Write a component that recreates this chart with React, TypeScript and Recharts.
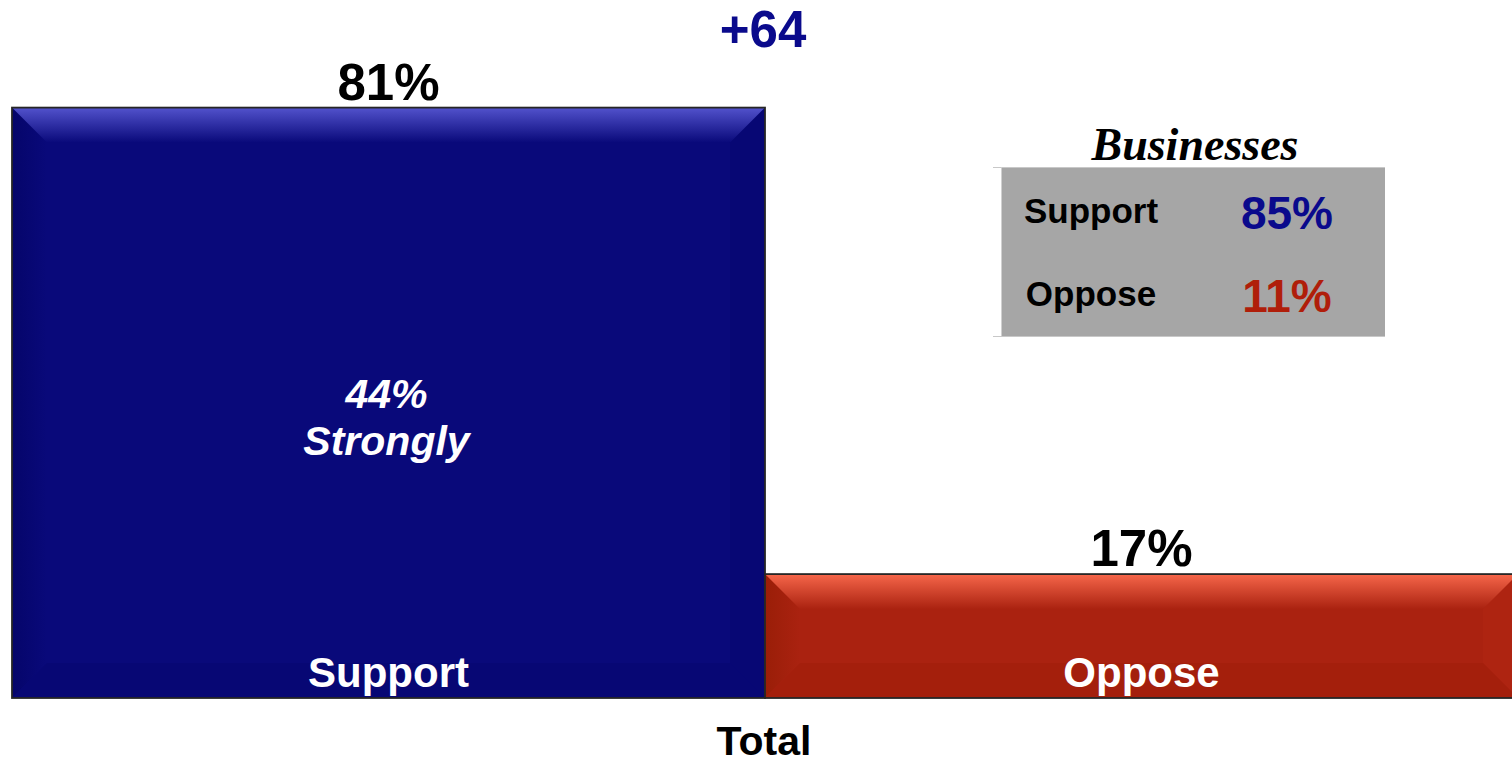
import React from "react";
import { BarChart, Bar, XAxis, YAxis, Cell, LabelList } from "recharts";

const categories = ["Support", "Oppose"];
const totals = [81, 17];
const strongly: (number | null)[] = [44, null];
const businessLabels = ["Support", "Oppose"];
const businessValues = [85, 11];

const data = categories.map((name, i) => ({ name, value: totals[i], strong: strongly[i] }));

const SANS = "'Liberation Sans', Arial, sans-serif";
const SERIF = "'Liberation Serif', 'Times New Roman', serif";

// main face, top highlight, left/right/bottom faces
const faces = [
  { main: "#09097a", top: "#5252cc", left: "#05056a", right: "#070774", bottom: "#070774" },
  { main: "#aa2210", top: "#f6664a", left: "#9a1e08", right: "#ae2411", bottom: "#a41f0c" },
];
const valueColors = ["#0a0a8c", "#b01e0a"];

function box(p: any) {
  const vb = p.viewBox && p.viewBox.width != null ? p.viewBox : p;
  return { x: Number(vb.x), y: Number(vb.y), w: Number(vb.width), h: Number(vb.height) };
}

function BevelBar(props: any) {
  const { x, y, width: w, height: h, index } = props;
  const c = faces[index] ?? faces[0];
  const b = Math.min(35, h / 2, w / 2);
  const id = `topgrad-${index}`;
  const lid = `leftgrad-${index}`;
  return (
    <g>
      <defs>
        <linearGradient id={id} x1="0" y1="0" x2="0" y2="1">
          <stop offset="0%" stopColor={c.top} />
          <stop offset="100%" stopColor={c.main} />
        </linearGradient>
        <linearGradient id={lid} x1="0" y1="0" x2="1" y2="0">
          <stop offset="0%" stopColor={c.left} />
          <stop offset="100%" stopColor={c.main} />
        </linearGradient>
      </defs>
      <rect x={x} y={y} width={w} height={h} fill={c.main} />
      <polygon points={`${x},${y} ${x + b},${y + b} ${x + b},${y + h - b} ${x},${y + h}`} fill={`url(#${lid})`} />
      <polygon points={`${x + w},${y} ${x + w - b},${y + b} ${x + w - b},${y + h - b} ${x + w},${y + h}`} fill={c.right} />
      <polygon points={`${x},${y + h} ${x + b},${y + h - b} ${x + w - b},${y + h - b} ${x + w},${y + h}`} fill={c.bottom} />
      <polygon points={`${x},${y} ${x + w},${y} ${x + w - b},${y + b} ${x + b},${y + b}`} fill={`url(#${id})`} />
      <rect x={x} y={y} width={w} height={h} fill="none" stroke="#262626" strokeWidth={1.8} />
    </g>
  );
}

function TopLabel(props: any) {
  const { x, y, w } = box(props);
  return (
    <text x={x + w / 2} y={y - 8} textAnchor="middle" fontFamily={SANS} fontWeight="bold" fontSize={51} fill="#000">
      {`${props.value}%`}
    </text>
  );
}

function InnerLabel(props: any) {
  const { x, y, w, h } = box(props);
  return (
    <text x={x + w / 2} y={y + h - 11} textAnchor="middle" fontFamily={SANS} fontWeight="bold" fontSize={42} fill="#fff">
      {props.value}
    </text>
  );
}

function StrongLabel(props: any) {
  const { x, w } = box(props);
  if (props.value == null) return null;
  const cx = x + w / 2 - 2;
  return (
    <g fontFamily={SANS} fontWeight="bold" fontStyle="italic" fontSize={41} fill="#fff" textAnchor="middle">
      <text x={cx} y={408}>{`${props.value}%`}</text>
      <text x={cx} y={455}>Strongly</text>
    </g>
  );
}

function Extras() {
  const margin = totals[0] - totals[1];
  return (
    <g>
      <text x={763} y={47} textAnchor="middle" fontFamily={SANS} fontWeight="bold" fontSize={51} fill="#0a0a8c">
        {`+${margin}`}
      </text>
      <text x={764} y={755} textAnchor="middle" fontFamily={SANS} fontWeight="bold" fontSize={41} fill="#000">
        Total
      </text>
      <text x={1195} y={160} textAnchor="middle" fontFamily={SERIF} fontWeight="bold" fontStyle="italic" fontSize={46} fill="#000">
        Businesses
      </text>
      <rect x={1001} y={167} width={384} height={169} fill="#a6a6a6" />
      <line x1={993} y1={167.5} x2={1385} y2={167.5} stroke="#c8c8c8" />
      <line x1={993} y1={336.5} x2={1385} y2={336.5} stroke="#c8c8c8" />
      <line x1={1001.5} y1={167} x2={1001.5} y2={336} stroke="#d0d0d0" />
      {businessLabels.map((l, i) => (
        <g key={l}>
          <text x={1091} y={223 + i * 83} textAnchor="middle" fontFamily={SANS} fontWeight="bold" fontSize={35} fill="#000">
            {l}
          </text>
          <text x={1287} y={229 + i * 83} textAnchor="middle" fontFamily={SANS} fontWeight="bold" fontSize={46} fill={valueColors[i]}>
            {`${businessValues[i]}%`}
          </text>
        </g>
      ))}
    </g>
  );
}

export default function App() {
  return (
    <div style={{ position: "absolute", left: 0, top: 0, width: 1512, height: 766, overflow: "hidden", background: "#fff" }}>
      <BarChart width={1518} height={766} data={data} margin={{ top: 42, right: 0, bottom: 68, left: 12 }} barCategoryGap={0} barGap={0}>
        <XAxis dataKey="name" hide />
        <YAxis hide domain={[0, 90]} />
        <Bar dataKey="value" shape={<BevelBar />} isAnimationActive={false}>
          {data.map((d, i) => (
            <Cell key={d.name} fill={faces[i].main} />
          ))}
          <LabelList dataKey="value" content={<TopLabel />} />
          <LabelList dataKey="name" content={<InnerLabel />} />
          <LabelList dataKey="strong" content={<StrongLabel />} />
        </Bar>
        <Extras />
      </BarChart>
    </div>
  );
}
